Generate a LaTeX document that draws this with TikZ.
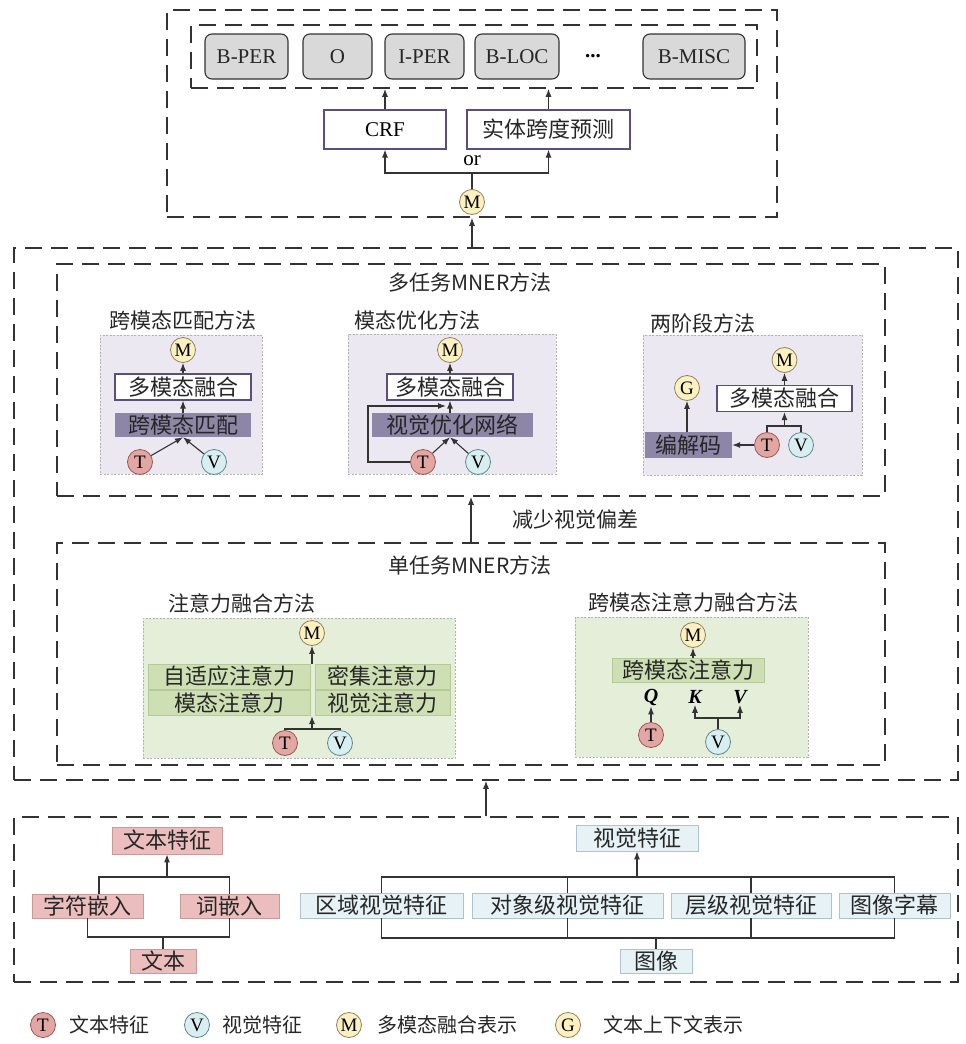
\documentclass[tikz,border=0pt]{standalone}
\usepackage{fontspec}
\setmainfont{Liberation Serif}
\newfontfamily\zhf{Noto Sans CJK SC}
\usetikzlibrary{arrows.meta}
\definecolor{dk}{HTML}{333333}
\definecolor{lgray}{HTML}{D9D9D9}
\definecolor{ylw}{HTML}{FBF0C0}
\definecolor{ylwd}{HTML}{8F8060}
\definecolor{tred}{HTML}{E3A7A3}
\definecolor{tredd}{HTML}{9A5555}
\definecolor{vcy}{HTML}{D8EEF0}
\definecolor{vcyd}{HTML}{5A8A90}
\definecolor{lav}{HTML}{ECE8F2}
\definecolor{pur}{HTML}{5C4E7A}
\definecolor{dpur}{HTML}{8E86A6}
\definecolor{grn}{HTML}{E5EED9}
\definecolor{gbx}{HTML}{CEDFB4}
\definecolor{gbxd}{HTML}{B5C99A}
\definecolor{pnk}{HTML}{EBBDBD}
\definecolor{pnkd}{HTML}{C99A9A}
\definecolor{lbl}{HTML}{E7F2F6}
\definecolor{lbld}{HTML}{AFC3CB}
\begin{document}
\begin{tikzpicture}[x=1pt,y=-1pt,
  bigdash/.style={draw=dk, line width=1.5pt, dash pattern=on 17pt off 9pt, inner sep=0},
  lab/.style={draw=dk, line width=1.1pt, fill=lgray, rounded corners=7pt, inner sep=0, font=\fontsize{21}{23}\selectfont, text=black!85},
  zh/.style={font=\zhf\fontsize{22}{24}\selectfont, text=black!85},
  zhl/.style={font=\zhf\fontsize{20}{24}\selectfont, text=black!85},
  zht/.style={font=\zhf\fontsize{21}{24}\selectfont, text=black!85},
  circ/.style={circle, inner sep=0, minimum size=25pt, font=\fontsize{19}{19}\selectfont, line width=0.8pt},
  mc/.style={circ, fill=ylw, draw=ylwd},
  tc/.style={circ, fill=tred, draw=tredd},
  vc/.style={circ, fill=vcy, draw=vcyd},
  panelm/.style={draw=gray!60, dash pattern=on 2pt off 1.5pt, line width=0.7pt, fill=lav, inner sep=0},
  panelg/.style={draw=gray!60, dash pattern=on 2pt off 1.5pt, line width=0.7pt, fill=grn, inner sep=0},
  wbox/.style={draw=pur, line width=1.2pt, fill=white, inner sep=0, zh},
  dbox/.style={fill=dpur, inner sep=0, zh},
  gbox/.style={fill=gbx, draw=gbxd, line width=0.6pt, inner sep=0, zh},
  pbox/.style={fill=pnk, draw=pnkd, line width=0.8pt, inner sep=0, zh},
  bbox/.style={fill=lbl, draw=lbld, line width=0.8pt, inner sep=0, zh},
  pbx/.style={draw=dk, line width=1.1pt, fill=white, inner sep=0},
  ln/.style={draw=dk, line width=1.1pt},
  arr/.style={ln, -{Latex[length=8pt,width=6pt]}},
  qkv/.style={font=\fontsize{20}{20}\selectfont\bfseries\itshape, inner sep=1pt}
]
\useasboundingbox (0,0) rectangle (966,1044);

% ---------- top block ----------
\node[bigdash, minimum width=610pt, minimum height=207pt] (topbox) at (472,113.5) {};
\node[bigdash, minimum width=566pt, minimum height=63pt] (inbox) at (474,56.5) {};
\node[lab, minimum width=83pt, minimum height=45pt] (bper) at (246.5,56.5) {B-PER};
\node[lab, minimum width=69pt, minimum height=45pt] (o) at (337.5,56.5) {O};
\node[lab, minimum width=79pt, minimum height=45pt] (iper) at (424.5,56.5) {I-PER};
\node[lab, minimum width=84pt, minimum height=45pt] (bloc) at (517,56.5) {B-LOC};
\node[font=\fontsize{21}{22}\selectfont\bfseries] (dots) at (593,56) {...};
\node[lab, minimum width=102pt, minimum height=45pt] (bmisc) at (694,56.5) {B-MISC};
\node[pbx, draw=pur, minimum width=122pt, minimum height=39pt, font=\fontsize{21}{22}\selectfont] (crf) at (385,129.5) {CRF};
\node[pbx, draw=pur, minimum width=163pt, minimum height=39pt, zh] (span) at (548.5,129.5) {实体跨度预测};
\node[mc] (mtop) at (472,202) {M};
\coordinate (orj) at (472,173);
\node[font=\fontsize{21}{22}\selectfont] (ortxt) at (472,161) {or};
\draw[ln] (mtop.north) -- (orj);
\draw[arr] (orj) -| (crf.south);
\draw[arr] (orj) -| (span.south);
\draw[arr] (crf.north) -- (crf.north |- inbox.south);
\draw[arr] (span.north) -- (span.north |- inbox.south);

% ---------- middle block ----------
\node[bigdash, minimum width=944pt, minimum height=532pt] (midbox) at (486,514) {};
\node[bigdash, minimum width=828pt, minimum height=232pt] (multibox) at (471,380) {};
\node[bigdash, minimum width=828pt, minimum height=222pt] (singlebox) at (471,654) {};
\node[zht] (tmulti) at (470,282) {多任务MNER方法};
\node[zht] (tsingle) at (470,565) {单任务MNER方法};
\node[zht] (treduce) at (575,520) {减少视觉偏差};
\draw[arr] (topbox.south |- midbox.north) -- (topbox.south);
\draw[arr] (singlebox.north) -- (multibox.south);

% panel 1
\node[zht] (tp1) at (183,320) {跨模态匹配方法};
\node[panelm, minimum width=162pt, minimum height=139pt] (p1) at (181,404.5) {};
\node[mc] (m1) at (183,350) {M};
\node[wbox, minimum width=136pt, minimum height=26pt] (fuse1) at (183,387) {多模态融合};
\node[dbox, minimum width=136pt, minimum height=24pt] (match1) at (183,425) {跨模态匹配};
\node[tc] (t1) at (140,462) {T};
\node[vc] (v1) at (214,462) {V};
\draw[arr] (t1) -- (match1.south);
\draw[arr] (v1) -- (match1.south);
\draw[arr] (match1.north) -- (fuse1.south);
\draw[arr] (fuse1.north) -- (m1.south);

% panel 2
\node[zht] (tp2) at (417,320) {模态优化方法};
\node[panelm, minimum width=208pt, minimum height=140pt] (p2) at (452,404) {};
\node[mc] (m2) at (450,350) {M};
\node[wbox, minimum width=126pt, minimum height=26pt] (fuse2) at (450,387) {多模态融合};
\node[dbox, minimum width=161pt, minimum height=24pt] (opt2) at (452.5,425) {视觉优化网络};
\node[tc] (t2) at (423,462) {T};
\node[vc] (v2) at (478,462) {V};
\coordinate (l2a) at (368,462);
\coordinate (l2b) at (368,406);
\coordinate (l2c) at (446,406);
\draw[arr] (t2.west) -- (l2a) -- (l2b) -- (l2c);
\draw[arr] (t2) -- (opt2.south -| fuse2.south);
\draw[arr] (v2) -- (opt2.south -| fuse2.south);
\draw[arr] (fuse2.south |- opt2.north) -- (fuse2.south);
\draw[arr] (fuse2.north) -- (m2.south);

% panel 3
\node[zht] (tp3) at (703,323) {两阶段方法};
\node[panelm, minimum width=219pt, minimum height=140pt] (p3) at (752.5,405) {};
\node[mc] (m3) at (784.5,360) {M};
\node[mc] (g3) at (687,388) {G};
\node[wbox, minimum width=135pt, minimum height=26pt] (fuse3) at (784.5,398.5) {多模态融合};
\node[dbox, minimum width=87pt, minimum height=26pt] (code3) at (688.5,445) {编解码};
\node[tc] (t3) at (767,445) {T};
\node[vc] (v3) at (801,445) {V};
\coordinate (j3) at (784.5,426);
\draw[ln] (t3.north) |- (j3) -| (v3.north);
\draw[arr] (j3) -- (fuse3.south);
\draw[arr] (fuse3.north) -- (m3.south);
\draw[arr] (t3.west) -- (code3.east);
\draw[arr] (g3.south |- code3.north) -- (g3.south);

% panel 4
\node[zht] (tp4) at (242,603) {注意力融合方法};
\node[panelg, minimum width=312pt, minimum height=140pt] (p4) at (299,688) {};
\node[mc] (m4) at (312,633) {M};
\node[gbox, minimum width=162pt, minimum height=25pt] (a1) at (229,676.5) {自适应注意力};
\node[gbox, minimum width=135pt, minimum height=25pt] (a2) at (382.5,676.5) {密集注意力};
\node[gbox, minimum width=162pt, minimum height=25pt] (a3) at (229,703) {模态注意力};
\node[gbox, minimum width=135pt, minimum height=25pt] (a4) at (382.5,703) {视觉注意力};
\node[tc] (t4) at (285,743) {T};
\node[vc] (v4) at (340,743) {V};
\coordinate (j4) at (312,729);
\coordinate (a4b) at (312,716);
\coordinate (a4t) at (312,664);
\draw[ln] (t4.north) |- (j4) -| (v4.north);
\draw[arr] (j4) -- (a4b);
\draw[arr] (a4t) -- (m4.south);

% panel 5
\node[zht] (tp5) at (693,602) {跨模态注意力融合方法};
\node[panelg, minimum width=233pt, minimum height=140pt] (p5) at (691.5,687) {};
\node[mc] (m5) at (693,635) {M};
\node[gbox, minimum width=152pt, minimum height=24pt] (ca5) at (688,670) {跨模态注意力};
\node[qkv] (q5) at (651,697) {Q};
\node[qkv] (k5) at (695,697) {K};
\node[qkv] (vv5) at (740,697) {V};
\node[tc] (t5) at (651,735) {T};
\node[vc] (v5) at (718,742) {V};
\coordinate (j5) at (718,718);
\draw[arr] (t5.north) -- (q5.south);
\draw[ln] (v5.north) -- (j5);
\draw[arr] (j5) -| (k5.south);
\draw[arr] (j5) -| (vv5.south);
\draw[arr] (m5.south |- ca5.north) -- (m5.south);

% ---------- bottom block ----------
\node[bigdash, minimum width=944pt, minimum height=165pt] (botbox) at (486,899.5) {};
\draw[arr] (botbox.north) -- (midbox.south);

\node[pbox, minimum width=110pt, minimum height=27pt] (tf) at (167,840.5) {文本特征};
\node[pbox, minimum width=111pt, minimum height=24pt] (ce) at (87.5,906) {字符嵌入};
\node[pbox, minimum width=99pt, minimum height=24pt] (we) at (229.5,906) {词嵌入};
\node[pbox, minimum width=66pt, minimum height=24pt] (tx) at (163,961) {文本};
\coordinate (tj) at (167,877);
\coordinate (bj) at (163,937);
\draw[ln] ([xshift=11.5pt]ce.north) |- (tj) -| (we.north);
\draw[arr] (tj) -- (tf.south);
\draw[ln] (ce.south) |- (bj) -| (we.south);
\draw[ln] (tx.north) -- (bj);

\node[bbox, minimum width=122pt, minimum height=26pt] (vf) at (637,838) {视觉特征};
\node[bbox, minimum width=163pt, minimum height=25pt] (r1) at (381.5,905.5) {区域视觉特征};
\node[bbox, minimum width=191pt, minimum height=25pt] (r2) at (567.5,905.5) {对象级视觉特征};
\node[bbox, minimum width=160pt, minimum height=25pt] (r3) at (751,905.5) {层级视觉特征};
\node[bbox, minimum width=111pt, minimum height=25pt] (r4) at (894.5,905.5) {图像字幕};
\node[bbox, minimum width=72pt, minimum height=24pt] (im) at (656,961.5) {图像};
\coordinate (vj) at (637,877);
\coordinate (ij) at (656,938);
\draw[ln] (r1.north) |- (vj) -| (r4.north);
\draw[ln] (r2.north) -- (r2.north |- vj);
\draw[ln] (r3.north) -- (r3.north |- vj);
\draw[arr] (vj) -- (vf.south);
\draw[ln] (r1.south) |- (ij) -| (r4.south);
\draw[ln] (r2.south) -- (r2.south |- ij);
\draw[ln] (r3.south) -- (r3.south |- ij);
\draw[ln] (im.north) -- (ij);

% ---------- legend ----------
\node[tc] (lt) at (43,1025) {T};
\node[zhl, anchor=west] (ltt) at (66,1025) {文本特征};
\node[vc] (lv) at (197,1025) {V};
\node[zhl, anchor=west] (lvt) at (219,1025) {视觉特征};
\node[mc] (lm) at (349,1025) {M};
\node[zhl, anchor=west] (lmt) at (374,1025) {多模态融合表示};
\node[mc] (lg) at (568,1025) {G};
\node[zhl, anchor=west] (lgt) at (600,1025) {文本上下文表示};
\end{tikzpicture}
\end{document}
